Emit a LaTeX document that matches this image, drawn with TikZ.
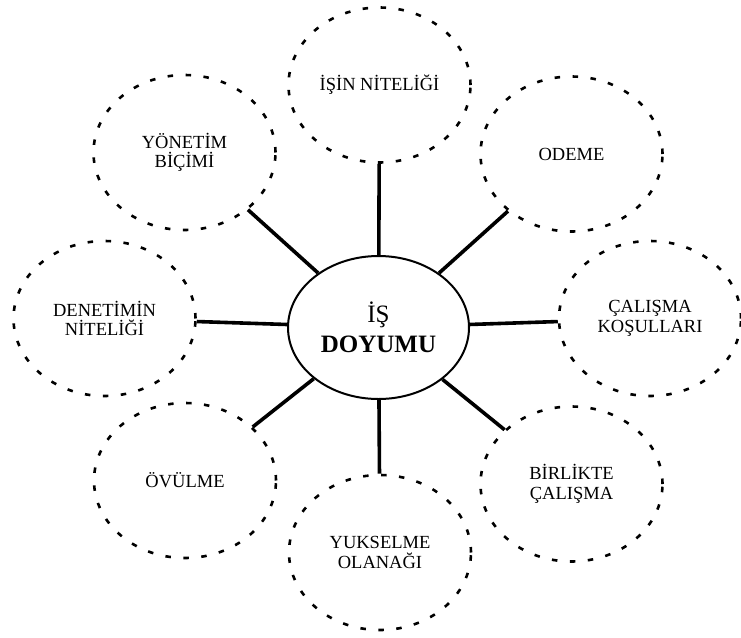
\documentclass[tikz,border=0pt]{standalone}
\usepackage{fontspec}
\setmainfont{Liberation Serif}
\usetikzlibrary{shapes.geometric}

\begin{document}
\begin{tikzpicture}[x=1pt,y=-1pt,
    core/.style={ellipse,draw,line width=2pt,minimum width=181pt,minimum height=143pt,
      inner sep=0pt,align=center,font=\fontsize{25}{30}\selectfont},
    sat/.style={ellipse,draw,line width=2.6pt,dash pattern=on 5.5pt off 12.5pt,
      minimum width=182pt,minimum height=155pt,inner sep=0pt,align=center,
      font=\fontsize{18.5}{19.5}\selectfont},
    link/.style={line width=3.6pt}]
    \useasboundingbox (0,0) rectangle (741,637);

    % central factor
    \node[core] (doyum) at (378.5,327.5) {İŞ\\\textbf{DOYUMU}};

    % satellite factors
    \foreach \nm/\x/\y/\txt in {
        isin/379.5/85/{İŞİN NİTELİĞİ},
        yonetim/184.5/152.5/{YÖNETİM\\BİÇİMİ},
        odeme/571.5/154/{ODEME},
        denetim/104.5/318.5/{DENETİMİN\\NİTELİĞİ},
        calisma/650/318.5/{ÇALIŞMA\\KOŞULLARI},
        birlikte/571.5/484/{BİRLİKTE\\ÇALIŞMA},
        yukselme/380/552.5/{YUKSELME\\OLANAĞI},
        ovulme/185/480.5/{ÖVÜLME}} {
      \node[sat] (\nm) at (\x,\y) {\txt};
    }

    % links to the centre
    \foreach \nm in {isin,yonetim,odeme,denetim,calisma,birlikte,yukselme,ovulme}
      \draw[link] (doyum) -- (\nm);
\end{tikzpicture}
\end{document}
